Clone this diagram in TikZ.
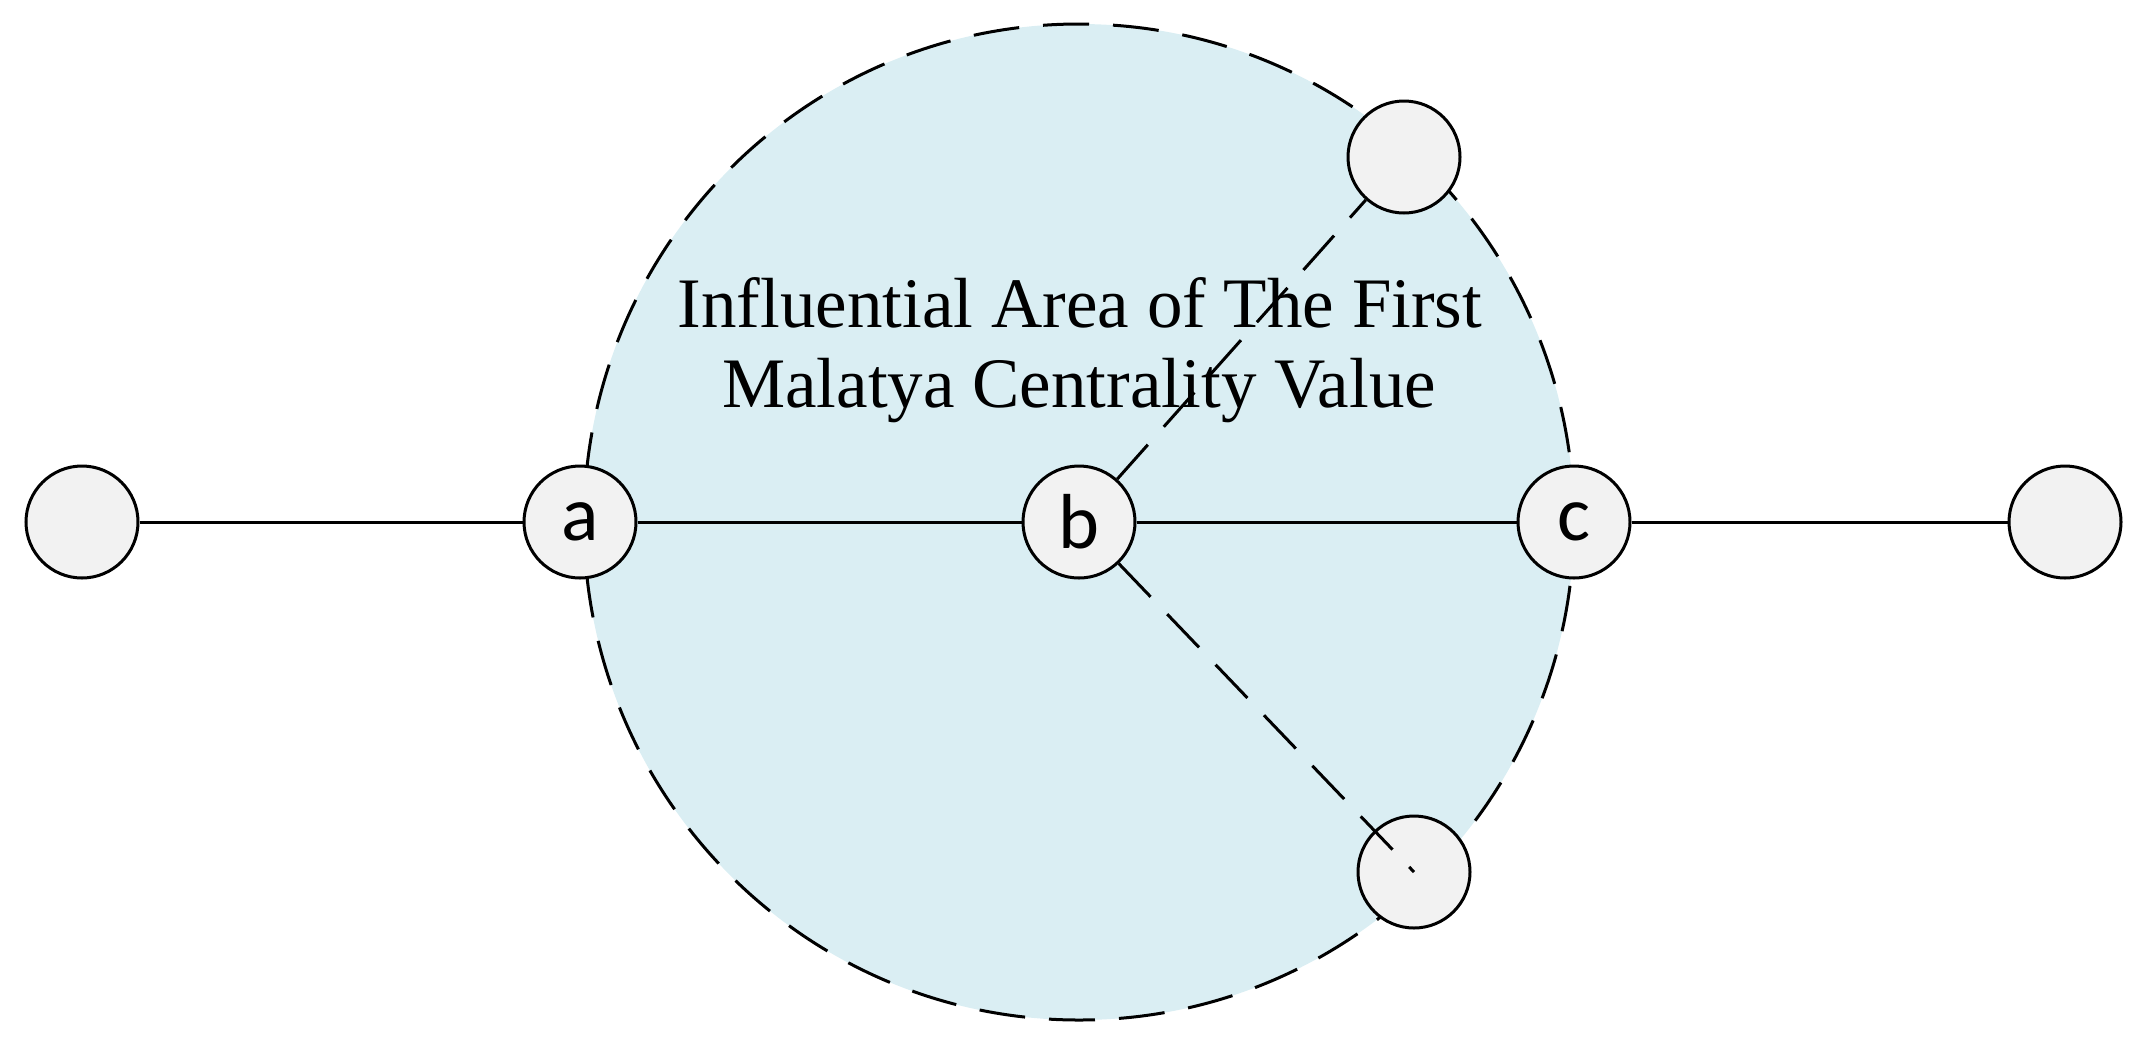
\documentclass[tikz,border=0pt]{standalone}
\usepackage{fontspec}
\usetikzlibrary{shapes.geometric}
\setmainfont{Liberation Serif}
\newfontfamily\lblfont{Carlito}
\definecolor{areablue}{HTML}{DAEEF3}
\definecolor{nodegray}{HTML}{F2F2F2}
\begin{document}
\begin{tikzpicture}[x=0.5pt,y=-0.5pt,
  vertex/.style={circle,draw=black,line width=1.5pt,fill=nodegray,minimum size=56pt,inner sep=0pt,font=\lblfont\fontsize{39}{39}\selectfont},
  edge/.style={line width=1.5pt},
  dashedge/.style={line width=1.5pt,dash pattern=on 23pt off 12pt},
  caption/.style={anchor=base,inner sep=0pt,font=\fontsize{35.5}{40}\selectfont}]
\useasboundingbox (0,0) rectangle (2142,1051);
% influential area
\node[ellipse,dashedge,draw=black,fill=areablue,minimum width=495pt,minimum height=498pt,inner sep=0pt] (area) at (1079,522) {};
\node[caption] (t1) at (1080,327) {Influential Area of The First};
\node[caption] (t2) at (1079,407) {Malatya Centrality Value};
% nodes
\coordinate (Lc) at (82,522);
\coordinate (Ac) at (580,522);
\coordinate (Bc) at (1079,522);
\coordinate (Cc) at (1574,522);
\coordinate (Rc) at (2065,522);
\coordinate (Tc) at (1404,157);
\coordinate (Dc) at (1414,872);
\node[vertex] (L) at (Lc) {};
\node[vertex] (a) at (Ac) {a};
\node[vertex] (b) at (Bc) {b};
\node[vertex] (c) at (Cc) {c};
\node[vertex] (R) at (Rc) {};
\node[vertex] (top) at (Tc) {};
\node[vertex] (bot) at (Dc) {};
% connectors
\draw[edge] (L) -- (a);
\draw[edge] (a) -- (b);
\draw[edge] (b) -- (c);
\draw[edge] (c) -- (R);
\draw[dashedge] (b) -- (top);
\draw[dashedge] (b) -- (bot.center);
\end{tikzpicture}
\end{document}
